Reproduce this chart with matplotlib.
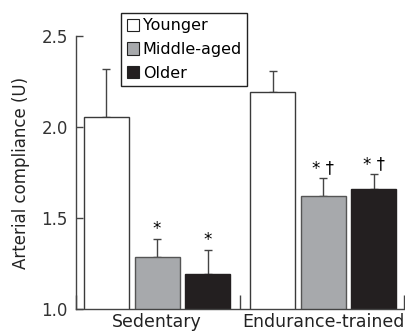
import numpy as np
import matplotlib
matplotlib.use('Agg')
import matplotlib.pyplot as plt
from matplotlib.patches import Patch

groups = ['Sedentary', 'Endurance-trained']
ages = ['Younger', 'Middle-aged', 'Older']
means = {'Younger': [2.055, 2.19], 'Middle-aged': [1.285, 1.62], 'Older': [1.19, 1.66]}
errs = {'Younger': [0.265, 0.12], 'Middle-aged': [0.10, 0.10], 'Older': [0.135, 0.08]}
marks = {'Younger': ['', ''], 'Middle-aged': ['*', '* †'], 'Older': ['*', '* †']}

fills = {'Younger': 'white', 'Middle-aged': '#a7a9ac', 'Older': '#231f20'}
edges = {'Younger': '#3a3a3a', 'Middle-aged': '#555555', 'Older': '#231f20'}

plt.rcParams['font.family'] = 'DejaVu Sans'
fig = plt.figure(figsize=(4.05, 3.34), dpi=100)
ax = fig.add_axes([0.188, 0.075, 0.814, 0.817])

group_gap = 3.29
width = 0.89
for j, age in enumerate(ages):
    x = np.arange(len(groups)) * group_gap + j
    ax.bar(x, means[age], width, bottom=0, color=fills[age], edgecolor=edges[age],
           linewidth=1.0, zorder=2)
    ax.errorbar(x, means[age], yerr=[np.zeros(len(groups)), errs[age]], fmt='none',
                ecolor='#444444', elinewidth=1.0, capsize=3, capthick=1.0, zorder=1)
    for xi, m, e, t in zip(x, means[age], errs[age], marks[age]):
        if t:
            ax.text(xi, m + e + 0.005, t, ha='center', va='bottom', fontsize=12)

ax.set_ylim(1.0, 2.5)
ax.set_xlim(-0.6, 5.92)
ax.set_yticks([1.0, 1.5, 2.0, 2.5])
ax.set_yticklabels(['1.0', '1.5', '2.0', '2.5'], fontsize=12, color='#333333')
ax.tick_params(axis='y', direction='in', length=5, width=1, color='#444444', pad=6)

# group separators as major ticks, group names as minor tick labels
ax.set_xticks([-0.6, 2.64, 5.89])
ax.set_xticklabels([])
ax.tick_params(axis='x', which='major', direction='in', length=10, width=1, color='#444444')
ax.set_xticks(np.arange(len(groups)) * group_gap + 1, minor=True)
ax.set_xticklabels(groups, minor=True, fontsize=12.5, color='#222222')
ax.tick_params(axis='x', which='minor', length=0, pad=3)

for s in ['top', 'right']:
    ax.spines[s].set_visible(False)
for s in ['left', 'bottom']:
    ax.spines[s].set_color('#444444')
    ax.spines[s].set_linewidth(1.0)

ax.set_ylabel('Arterial compliance (U)', fontsize=12, color='#222222', labelpad=8)

handles = [Patch(facecolor=fills[a], edgecolor='#222222', linewidth=0.8) for a in ages]
leg = fig.legend(handles, ages, loc='upper left', bbox_to_anchor=(0.299, 0.962),
                 fontsize=11.5, handlelength=0.8, handleheight=0.8, handletextpad=0.2,
                 labelspacing=0.55, borderpad=0.35, borderaxespad=0, fancybox=False,
                 framealpha=1, edgecolor='#222222')
leg.get_frame().set_linewidth(1.0)

fig.savefig('out.png', dpi=100)
